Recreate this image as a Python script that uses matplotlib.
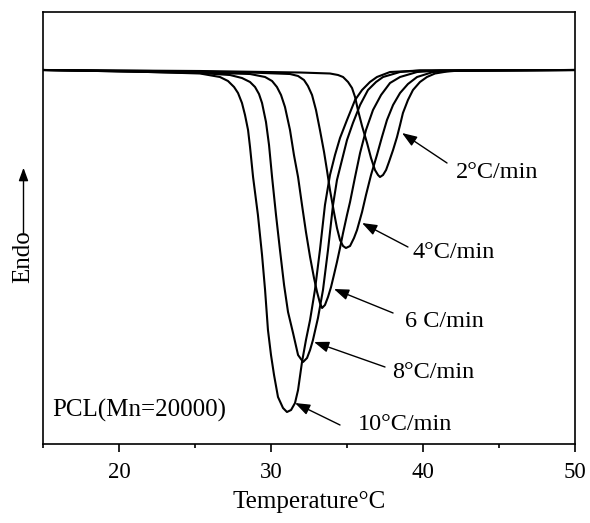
import matplotlib
matplotlib.use("Agg")
import matplotlib.pyplot as plt
from matplotlib.patches import FancyArrowPatch
from matplotlib.ticker import MultipleLocator

plt.rcParams['font.family'] = ['Liberation Serif', 'DejaVu Serif']

# DSC melting curves of PCL (Mn=20000)
# temperature (deg C) and heat flow (arbitrary units, baseline = 0)
t_10 = [15.00, 18.75, 22.04, 25.33, 26.64, 27.17, 27.57, 27.83, 28.09, 28.29, 28.49, 28.62,
        28.82, 29.14, 29.41, 29.61, 29.80, 30.00, 30.20, 30.46, 30.79, 31.05, 31.32, 31.58,
        31.78, 32.04, 32.30, 32.57, 32.89, 33.22, 33.55, 33.88, 34.21, 34.54, 35.00, 35.53,
        35.99, 36.51, 36.97, 37.83, 39.80, 50.00]
hf_10 = [0, -1, -2, -3.5, -7, -11, -17, -23, -33, -45, -60, -77,
         -107, -145, -185, -220, -260, -285, -305, -327, -338, -342, -340, -333,
         -320, -292, -270, -250, -220, -180, -135, -105, -85, -68, -50, -30,
         -20, -12, -7, -2, -0.5, 0]

t_8 = [15.00, 18.75, 22.04, 25.33, 27.30, 28.09, 28.62, 28.95, 29.21, 29.41, 29.67, 29.87,
       30.07, 30.33, 30.59, 30.86, 31.12, 31.45, 31.78, 32.11, 32.37, 32.57, 32.76, 33.09,
       33.42, 33.75, 34.08, 34.34, 34.67, 35.00, 35.39, 35.86, 36.38, 36.91, 37.37, 38.49,
       39.80, 50.00]
hf_8 = [0, -1, -2, -3, -5, -8, -12, -17, -24, -33, -52, -75,
        -107, -145, -180, -215, -242, -263, -285, -292, -288, -280, -270, -248,
        -220, -180, -135, -110, -90, -70, -53, -35, -20, -12, -7, -2,
        -0.5, 0]

t_6 = [15.00, 22.04, 25.33, 28.62, 29.61, 30.07, 30.39, 30.66, 30.92, 31.25, 31.51, 31.78,
       32.04, 32.30, 32.57, 32.83, 33.03, 33.22, 33.36, 33.55, 33.75, 33.95, 34.14, 34.34,
       34.54, 34.74, 35.00, 35.20, 35.53, 35.86, 36.25, 36.71, 37.24, 37.83, 38.49, 39.61,
       41.12, 50.00]
hf_6 = [0, -1.5, -2.5, -4, -7, -11, -17, -25, -37, -60, -85, -107,
        -135, -162, -187, -208, -222, -233, -238, -235, -227, -217, -205, -192,
        -178, -163, -145, -132, -107, -83, -60, -40, -25, -13, -7, -2,
        -0.5, 0]

t_4 = [15.00, 22.04, 28.62, 31.25, 31.78, 32.17, 32.43, 32.70, 32.96, 33.22, 33.49, 33.68,
       33.88, 34.14, 34.34, 34.54, 34.74, 34.93, 35.20, 35.46, 35.66, 35.99, 36.25, 36.58,
       36.97, 37.30, 37.63, 38.03, 38.49, 39.01, 39.61, 40.66, 41.78, 50.00]
hf_4 = [0, -1, -2.5, -4, -6, -10, -16, -25, -40, -60, -82, -100,
        -120, -142, -158, -170, -176, -178, -176, -168, -160, -142, -125, -105,
        -85, -67, -50, -35, -23, -14, -7, -2, -1, 0]

t_2 = [15.00, 25.33, 31.91, 33.88, 34.41, 34.74, 35.07, 35.33, 35.53, 35.72, 35.99, 36.32,
       36.58, 36.84, 37.04, 37.17, 37.37, 37.57, 37.76, 38.03, 38.29, 38.49, 38.68, 39.01,
       39.34, 39.80, 40.26, 40.79, 41.58, 42.43, 50.00]
hf_2 = [0, -1, -2.5, -3.5, -5, -7, -12, -18, -27, -40, -56, -73,
        -88, -100, -105, -107, -105, -100, -92, -80, -67, -55, -43, -30,
        -20, -12, -7, -3.5, -1.5, -0.5, 0]

labels = ['2°C/min', '4°C/min', '6 C/min', '8°C/min', '10°C/min']

fig = plt.figure(figsize=(5.90, 5.23), dpi=100)
ax = fig.add_axes([43/590, 1-444/523, (575-43)/590, (444-12)/523])

for t, hf in [(t_10, hf_10), (t_8, hf_8), (t_6, hf_6), (t_4, hf_4), (t_2, hf_2)]:
    ax.plot(t, hf, color='black', lw=1.5, solid_joinstyle='round')

ax.set_xlim(15, 50)
ax.set_ylim(-374, 58)
ax.xaxis.set_major_locator(MultipleLocator(10))
ax.xaxis.set_minor_locator(MultipleLocator(5))
ax.set_yticks([])
ax.tick_params(axis='x', which='major', direction='out', length=6, width=1.2,
               labelsize=16.5, pad=7)
ax.tick_params(axis='x', which='minor', direction='out', length=3, width=1.2)
for s in ax.spines.values():
    s.set_linewidth(1.2)

ax.set_xlabel('Temperature°C', fontsize=18, labelpad=6)

astyle = '-|>,head_length=0.6,head_width=0.22'
# annotations: (label, arrow tip, arrow tail, text position)
ann = [
    (labels[0], (38.62, -63), (41.58, -93), (42.17, -108)),
    (labels[1], (35.99, -153), (39.01, -177), (39.28, -188)),
    (labels[2], (34.14, -219), (38.03, -243), (38.82, -257)),
    (labels[3], (32.83, -272), (37.50, -297), (37.96, -308)),
    (labels[4], (31.58, -333), (34.54, -355), (35.72, -360)),
]
for lab, tip, tail, tpos in ann:
    ax.annotate('', xy=tip, xytext=tail,
                arrowprops=dict(arrowstyle=astyle, color='black', lw=1.0,
                                mutation_scale=15, shrinkA=0, shrinkB=0))
    ax.text(tpos[0], tpos[1], lab, fontsize=17.5, ha='left', va='baseline')

ax.text(15.6, -347, 'PCL(Mn=20000)', fontsize=18, ha='left', va='baseline')

# y label "Endo" with upward arrow
fig.text(23/590, 1-257/523, 'Endo', rotation=90, fontsize=18, ha='center', va='center')
fig.add_artist(FancyArrowPatch(
    (23.5/590, 1-236/523), (23.5/590, 1-165/523), transform=fig.transFigure,
    arrowstyle=astyle, mutation_scale=13, lw=1.0, color='black'))

fig.savefig('out.png', dpi=100)
